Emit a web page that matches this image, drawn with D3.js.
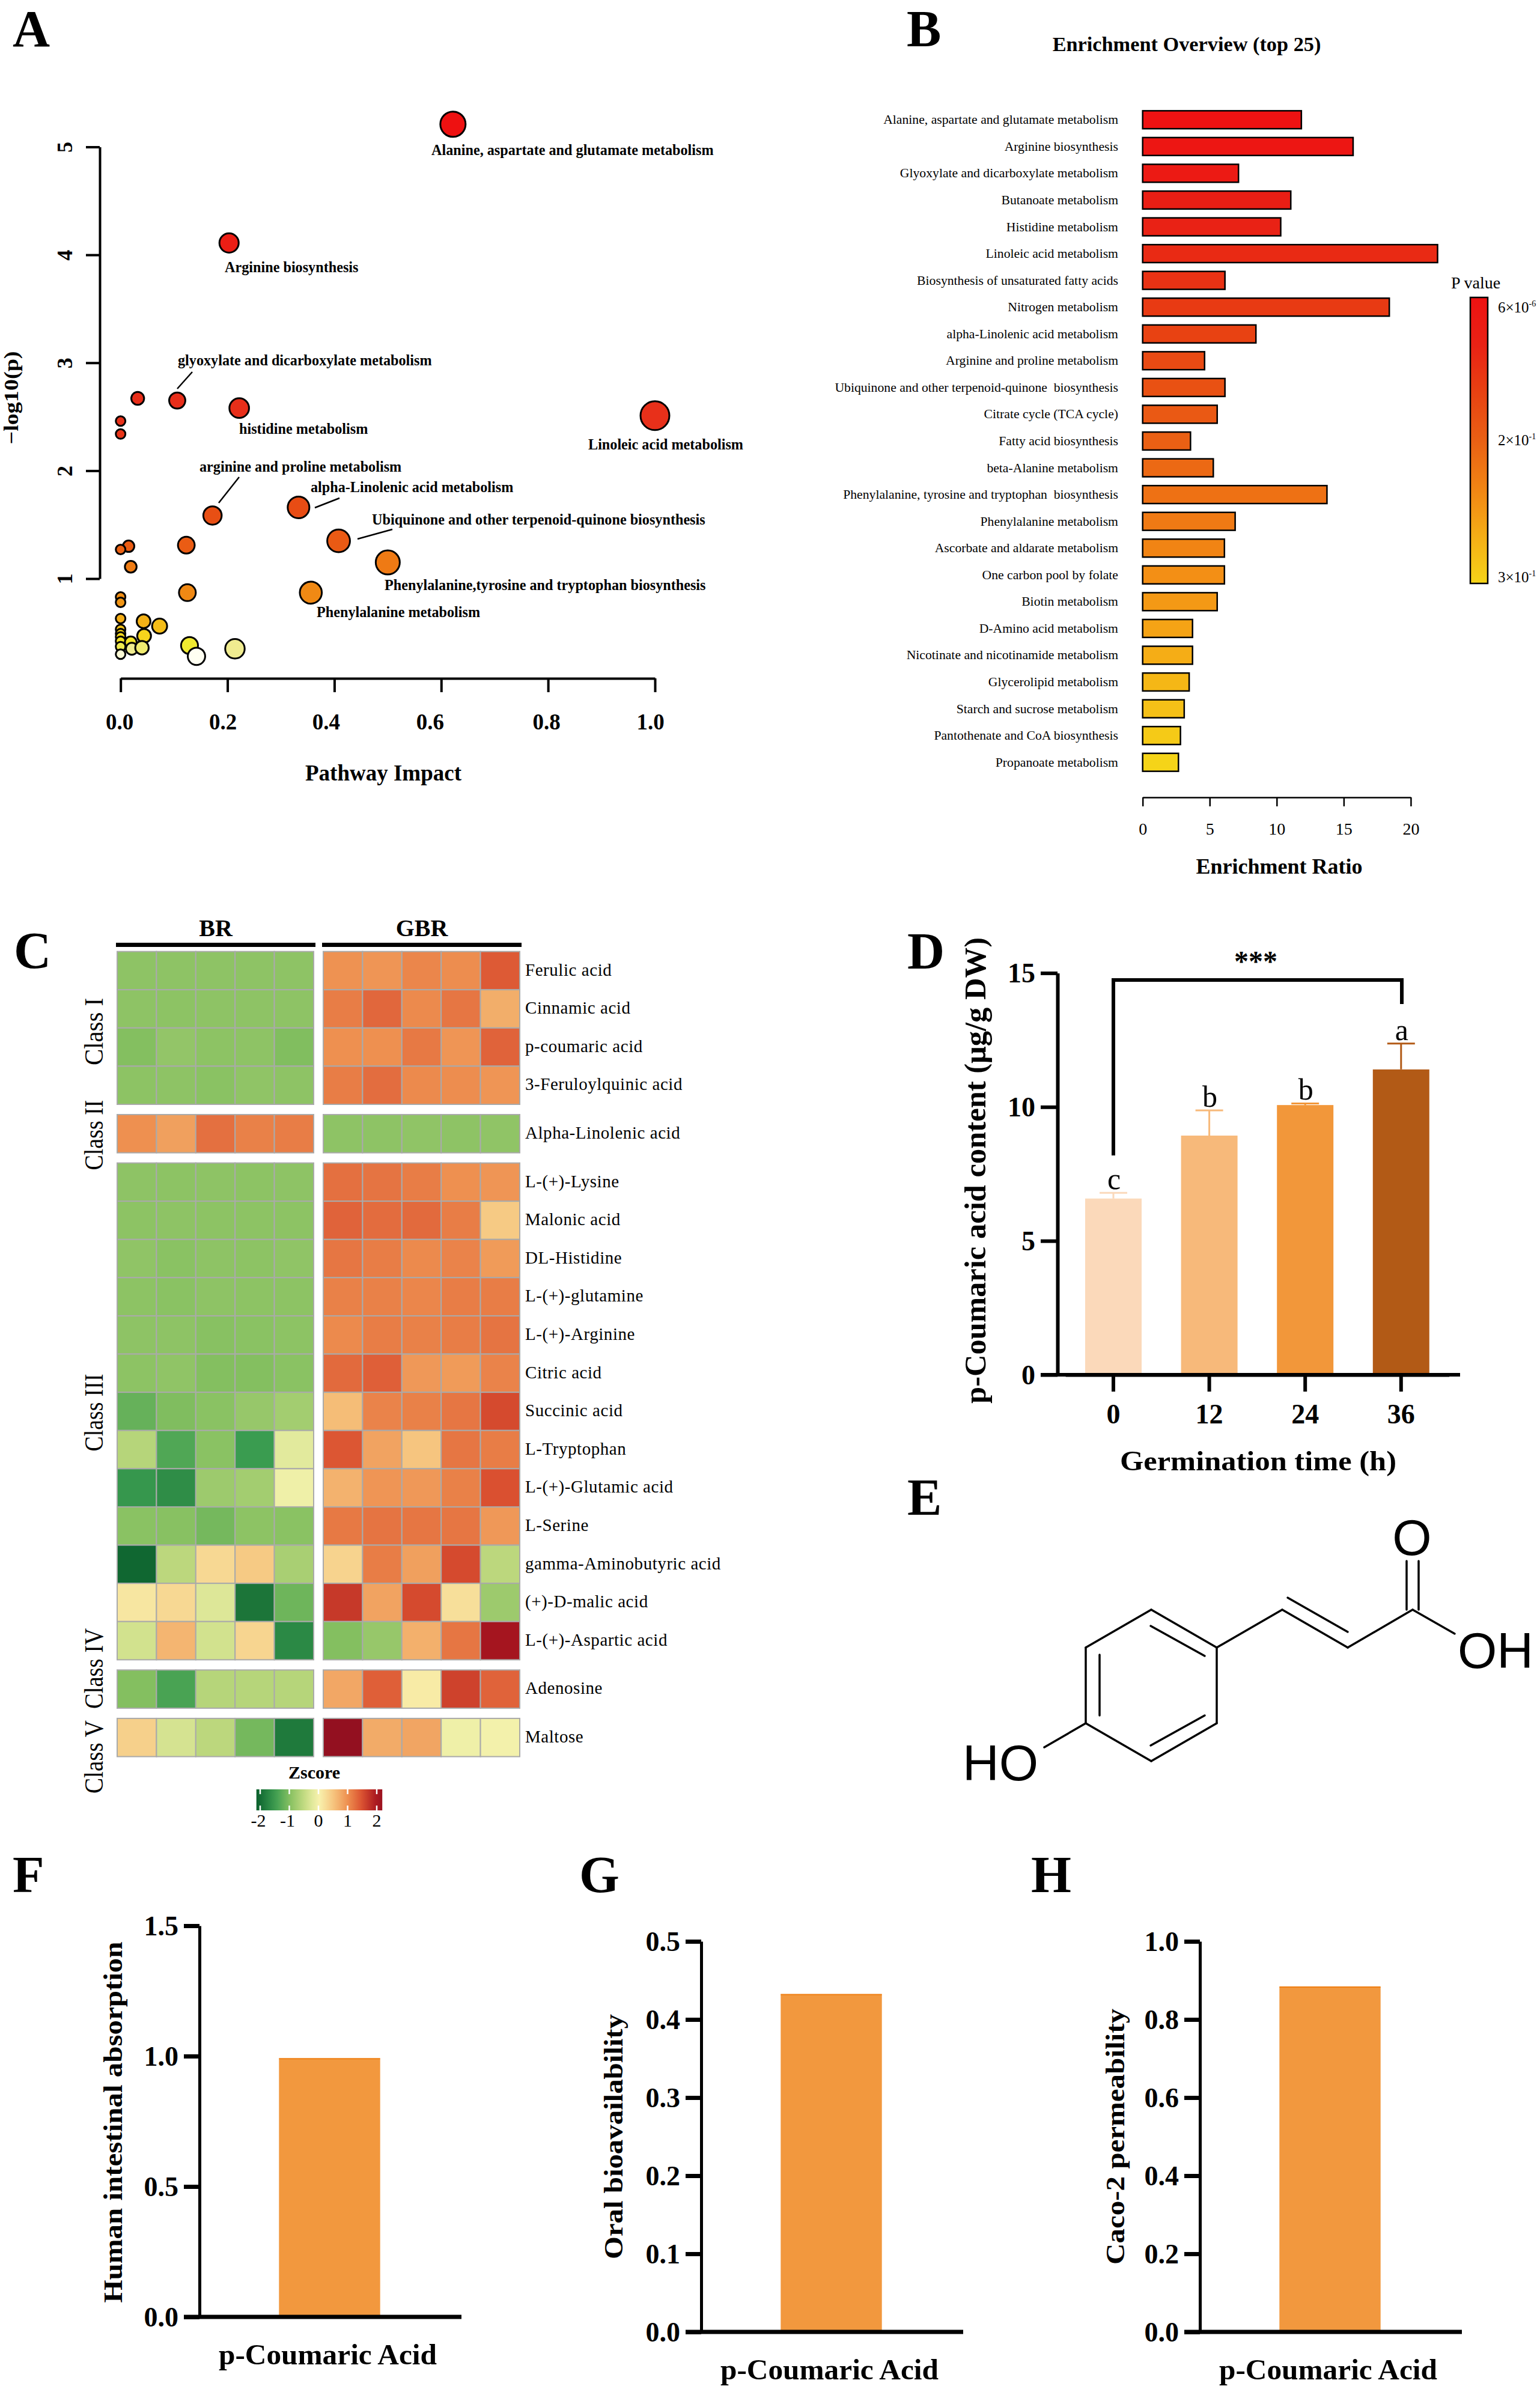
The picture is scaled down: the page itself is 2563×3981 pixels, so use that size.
<!DOCTYPE html>
<html>
<head>
<meta charset="utf-8">
<title>p-Coumaric acid figure</title>
<script src="https://d3js.org/d3.v7.min.js"></script>
<style>
  html, body { margin: 0; background: #fff; }
  svg { display: block; }
  text { font-family: "Liberation Serif", "Times New Roman", serif; fill: #000; }
</style>
</head>
<body>
<div id="figure"></div>
<script>
// Panel A data: pathway impact vs -log10(p)
var pathImpact = [0.622, 0.203, 0.106, 0.032, 0.222, 1.0, 0, 0, 0.172, 0.333, 0.408, 0.50, 0.356, 0.123, 0.125, 0.015, 0, 0.019, 0, 0, 0, 0.043, 0.073, 0.044, 0, 0, 0, 0, 0, 0.019, 0.021, 0.040, 0.129, 0.142, 0.214, 0];
var pathLogP = [5.21, 4.11, 2.65, 2.67, 2.58, 2.51, 2.46, 2.34, 1.585, 1.66, 1.35, 1.15, 0.87, 1.31, 0.87, 1.30, 1.27, 1.11, 0.83, 0.78, 0.63, 0.605, 0.56, 0.47, 0.53, 0.49, 0.46, 0.42, 0.37, 0.41, 0.35, 0.36, 0.38, 0.28, 0.35, 0.30];
var impactTicks = [0, 0.2, 0.4, 0.6, 0.8, 1.0];
var logPTicks = [1, 2, 3, 4, 5];
var pathLabels = ["Alanine, aspartate and glutamate metabolism", "Arginine biosynthesis", "glyoxylate and dicarboxylate metabolism", "histidine metabolism", "Linoleic acid metabolism", "arginine and proline metabolism", "alpha-Linolenic acid metabolism", "Ubiquinone and other terpenoid-quinone biosynthesis", "Phenylalanine,tyrosine and tryptophan biosynthesis", "Phenylalanine metabolism"];

// Panel B data
var enrichNames = ["Alanine, aspartate and glutamate metabolism", "Arginine biosynthesis", "Glyoxylate and dicarboxylate metabolism", "Butanoate metabolism", "Histidine metabolism", "Linoleic acid metabolism", "Biosynthesis of unsaturated fatty acids", "Nitrogen metabolism", "alpha-Linolenic acid metabolism", "Arginine and proline metabolism", "Ubiquinone and other terpenoid-quinone  biosynthesis", "Citrate cycle (TCA cycle)", "Fatty acid biosynthesis", "beta-Alanine metabolism", "Phenylalanine, tyrosine and tryptophan  biosynthesis", "Phenylalanine metabolism", "Ascorbate and aldarate metabolism", "One carbon pool by folate", "Biotin metabolism", "D-Amino acid metabolism", "Nicotinate and nicotinamide metabolism", "Glycerolipid metabolism", "Starch and sucrose metabolism", "Pantothenate and CoA biosynthesis", "Propanoate metabolism"];
var enrichRatio = [11.84, 15.7, 7.15, 11.05, 10.3, 22.0, 6.14, 18.4, 8.45, 4.62, 6.14, 5.56, 3.57, 5.27, 13.75, 6.9, 6.1, 6.1, 5.56, 3.72, 3.72, 3.47, 3.1, 2.82, 2.67];
var ratioTicks = [0, 5, 10, 15, 20];

// Panel C data: z-scores, 5 BR columns then 5 GBR columns
var metabolites = ["Ferulic acid", "Cinnamic acid", "p-coumaric acid", "3-Feruloylquinic acid", "Alpha-Linolenic acid", "L-(+)-Lysine", "Malonic acid", "DL-Histidine", "L-(+)-glutamine", "L-(+)-Arginine", "Citric acid", "Succinic acid", "L-Tryptophan", "L-(+)-Glutamic acid", "L-Serine", "gamma-Aminobutyric acid", "(+)-D-malic acid", "L-(+)-Aspartic acid", "Adenosine", "Maltose"];
var metaboliteClass = [0, 0, 0, 0, 1, 2, 2, 2, 2, 2, 2, 2, 2, 2, 2, 2, 2, 2, 3, 4];
var classNames = ["Class I", "Class II", "Class III", "Class IV", "Class V"];
var groupNames = ["BR", "GBR"];
var zscores = [
  [-0.92, -0.92, -0.92, -0.92, -0.92, 0.98, 0.95, 1.08, 1.02, 1.42],
  [-0.92, -0.93, -0.92, -0.92, -0.92, 1.15, 1.32, 1.05, 1.2, 0.72],
  [-1.0, -0.88, -0.93, -0.92, -1.02, 1.0, 1.0, 1.18, 0.95, 1.35],
  [-0.93, -0.92, -0.95, -0.9, -0.92, 1.15, 1.27, 1.05, 1.02, 0.95],
  [1.0, 0.85, 1.25, 1.12, 1.15, -0.92, -0.92, -0.9, -0.92, -0.9],
  [-0.92, -0.93, -0.92, -0.93, -0.92, 1.25, 1.22, 1.15, 1.0, 0.95],
  [-0.93, -0.92, -0.93, -0.93, -0.93, 1.35, 1.28, 1.3, 1.15, 0.45],
  [-0.9, -0.95, -0.92, -0.93, -0.9, 1.2, 1.15, 1.05, 1.1, 0.9],
  [-0.93, -0.95, -0.92, -0.93, -0.93, 1.12, 1.12, 1.08, 1.15, 1.15],
  [-0.92, -0.92, -0.97, -0.95, -0.93, 1.05, 1.15, 1.12, 1.15, 1.22],
  [-0.93, -0.9, -1.0, -1.0, -0.95, 1.3, 1.38, 0.92, 0.9, 1.1],
  [-1.2, -1.03, -0.95, -0.85, -0.75, 0.58, 1.1, 1.12, 1.2, 1.55],
  [-0.6, -1.35, -0.95, -1.5, -0.2, 1.45, 0.82, 0.5, 1.2, 1.15],
  [-1.55, -1.65, -0.8, -0.75, -0.08, 0.68, 0.95, 0.92, 1.12, 1.5],
  [-0.95, -0.97, -1.1, -0.93, -0.95, 1.18, 1.22, 1.2, 1.2, 0.92],
  [-2.05, -0.55, 0.3, 0.45, -0.7, 0.35, 1.15, 0.85, 1.55, -0.55],
  [0.15, 0.3, -0.25, -1.9, -1.15, 1.7, 0.82, 1.55, 0.22, -0.8],
  [-0.35, 0.65, -0.35, 0.33, -1.7, -1.0, -0.85, 0.7, 1.2, 2.05],
  [-1.0, -1.4, -0.6, -0.6, -0.6, 0.78, 1.38, 0.1, 1.62, 1.35],
  [0.38, -0.32, -0.55, -1.1, -1.85, 2.3, 0.75, 0.8, -0.08, -0.05]
];
var zTicks = [-2, -1, 0, 1, 2];

// Panel D data
var germTime = ["0", "12", "24", "36"];
var coumaric = [6.58, 8.93, 10.07, 11.4];
var coumaricErr = [0.21, 0.94, 0.06, 0.97];
var sigLetters = ["c", "b", "b", "a"];
var contentTicks = [0, 5, 10, 15];

// Panels F, G, H data
var admetTitles = ["Human intestinal absorption", "Oral bioavailability", "Caco-2 permeability"];
var admetValues = [0.99, 0.432, 0.883];
var admetMax = [1.5, 0.5, 1.0];
var admetTicks = [[0, 0.5, 1.0, 1.5], [0, 0.1, 0.2, 0.3, 0.4, 0.5], [0, 0.2, 0.4, 0.6, 0.8, 1.0]];

// Panel E: molecule drawing (p-coumaric acid), drawn in page pixels
var bonds = [
  [1916, 2679, 2025, 2742], [2025, 2742, 2025, 2868], [2025, 2868, 1916, 2931], [1916, 2931, 1807, 2868], [1807, 2868, 1807, 2742], [1807, 2742, 1916, 2679],
  [1915, 2706, 2005, 2756], [1830, 2754, 1830, 2855], [1915, 2905, 2005, 2855],
  [2025, 2742, 2134, 2679], [2134, 2679, 2243, 2742], [2143, 2659, 2243, 2716], [2243, 2742, 2351, 2679],
  [2341, 2679, 2341, 2598], [2361, 2679, 2361, 2598], [2351, 2679, 2421, 2719], [1807, 2868, 1738, 2908]
];

var svgWidth = 2563;
var svgHeight = 3981;

var svg = d3.select("#figure")
    .append("svg")
    .attr("width", svgWidth)
    .attr("height", svgHeight)
    .attr("viewBox", `0 0 ${svgWidth} ${svgHeight}`);

svg.append("rect").attr("width", svgWidth).attr("height", svgHeight).attr("fill", "#fff");

// small helper, everything in the figure is Liberation Serif except the atoms
function label(x, y, str, size, opts) {
    opts = opts || {};
    var t = svg.append("text")
        .attr("x", x)
        .attr("y", y)
        .attr("font-size", size)
        .attr("font-weight", opts.bold ? "bold" : "normal")
        .attr("text-anchor", opts.anchor || "start")
        .text(str);
    if (opts.rotate) t.attr("transform", `rotate(-90 ${x} ${y})`);
    if (opts.length) t.attr("textLength", opts.length).attr("lengthAdjust", "spacingAndGlyphs");
    return t;
}

function styleAxis(g, width, fontSize, bold) {
    g.selectAll("path,line").attr("stroke", "#000").attr("stroke-width", width);
    g.selectAll("text")
        .attr("font-size", fontSize)
        .attr("font-weight", bold ? "bold" : "normal")
        .attr("font-family", "Liberation Serif");
}

// Panel letters
var letters = [["A", 21, 77], ["B", 1509, 77], ["C", 23, 1611], ["D", 1510, 1612], ["E", 1510, 2521], ["F", 21, 3149], ["G", 964, 3149], ["H", 1716, 3149]];
letters.forEach(function(d) { label(d[1], d[2], d[0], 86, {bold: true}); });

// ---- Panel A, pathway bubble plot
var xImpact = d3.scaleLinear().domain([0, 1]).range([200.7, 1090]);
var yLogP = d3.scaleLinear().domain([1, 5]).range([963, 244.5]);
var rImpact = d3.scaleLinear()
    .domain([0, 0.015, 0.044, 0.073, 0.125, 0.2, 0.33, 0.5, 0.62, 1])
    .range([8, 9.5, 11.5, 12.5, 14, 16, 18, 20, 21, 24]);
var colorLogP = d3.scaleLinear()
    .domain([0.28, 0.35, 0.38, 0.46, 0.6, 0.85, 1.15, 1.3, 1.65, 2.5, 5.2])
    .range(["#fffff2", "#f0ec90", "#f0ea30", "#f6d81c", "#f3b216", "#f08a14", "#ef7a14", "#ea5c14", "#e84c14", "#e8301a", "#ee1111"])
    .clamp(true);

svg.append("g")
    .attr("transform", "translate(166,0)")
    .call(d3.axisLeft(yLogP).tickValues(logPTicks).tickSize(23).tickSizeOuter(0).tickFormat(d3.format("d")))
    .call(styleAxis, 4, 36, true)
    .call(g => g.selectAll("text")
        .attr("x", -58).attr("y", 0).attr("dy", 0).attr("text-anchor", "middle")
        .attr("dominant-baseline", "central")
        .attr("transform", "rotate(-90 -58 0)"));

// tick labels sit a bit left of their ticks in the original
var impactLabelShift = [-2, -8, -14, -19, -3, -8];
svg.append("g")
    .attr("transform", "translate(0,1129)")
    .call(d3.axisBottom(xImpact).tickValues(impactTicks).tickSize(23).tickSizeOuter(0).tickFormat(d3.format(".1f")))
    .call(styleAxis, 4, 37, true)
    .call(g => g.selectAll("text").attr("y", 72).attr("dy", 0).attr("dominant-baseline", "central")
        .attr("x", (d, i) => impactLabelShift[i]));

var bubbles = pathImpact.map(function(d, i) { return {x: d, y: pathLogP[i]}; });
svg.append("g").selectAll("circle")
    .data(bubbles)
    .enter()
    .append("circle")
    .attr("cx", d => xImpact(d.x))
    .attr("cy", d => yLogP(d.y))
    .attr("r", d => rImpact(d.x))
    .attr("fill", d => colorLogP(d.y))
    .attr("stroke", "#000")
    .attr("stroke-width", 3);

var pathLabelPos = [[718, 258], [374, 453], [296, 608], [398, 722], [979, 748], [332, 785], [517, 819], [619, 873], [640, 982], [527, 1027]];
pathLabels.forEach(function(d, i) {
    label(pathLabelPos[i][0], pathLabelPos[i][1], d, 24.2, {bold: true});
});
var leaders = [[295, 647, 320, 619], [364, 837, 398, 794], [524, 845, 565, 829], [595, 897, 653, 881]];
leaders.forEach(function(d) {
    svg.append("line").attr("x1", d[0]).attr("y1", d[1]).attr("x2", d[2]).attr("y2", d[3]).attr("stroke", "#000").attr("stroke-width", 2.5);
});
label(30, 662, "\u2212log10(p)", 33, {bold: true, anchor: "middle", rotate: true, length: 155});
label(638, 1299, "Pathway Impact", 37, {bold: true, anchor: "middle"});

// ---- Panel B, enrichment bars
var xRatio = d3.scaleLinear().domain([0, 20]).range([1901.7, 2347.9]);
var yEnrich = d3.scaleBand().domain(enrichNames).range([177, 1291]).paddingInner(0.33).paddingOuter(0.165);
var colorRank = d3.scaleLinear()
    .domain([0, 4, 8, 12, 15, 19, 24])
    .range(["#ee1212", "#e92215", "#e84212", "#ea6014", "#f07a14", "#f5a315", "#f5d418"]);

label(1975, 85, "Enrichment Overview (top 25)", 34.3, {bold: true, anchor: "middle"});

svg.append("g").selectAll("rect")
    .data(enrichRatio)
    .enter()
    .append("rect")
    .attr("x", xRatio(0))
    .attr("y", (d, i) => yEnrich(enrichNames[i]))
    .attr("width", d => xRatio(d) - xRatio(0))
    .attr("height", yEnrich.bandwidth())
    .attr("fill", (d, i) => colorRank(i))
    .attr("stroke", "#000")
    .attr("stroke-width", 2.5);

enrichNames.forEach(function(d) {
    label(1861, yEnrich(d) + yEnrich.bandwidth() / 2, d, 21.7, {anchor: "end"})
        .attr("dominant-baseline", "central")
        .style("white-space", "pre");
});

svg.append("g")
    .attr("transform", "translate(0,1327)")
    .call(d3.axisBottom(xRatio).tickValues(ratioTicks).tickSize(15).tickSizeOuter(0))
    .call(styleAxis, 2.5, 28, false)
    .call(g => g.selectAll("text").attr("y", 52).attr("dy", 0).attr("dominant-baseline", "central"));
label(2129, 1454, "Enrichment Ratio", 36, {bold: true, anchor: "middle"});

// P value legend
var legendScale = d3.scaleLinear().domain([0, 1]).range([495, 971]);
var legendGrad = svg.append("defs").append("linearGradient")
    .attr("id", "pGrad").attr("x1", 0).attr("x2", 0).attr("y1", 0).attr("y2", 1);
d3.range(0, 25, 4).concat([24]).forEach(function(i) {
    legendGrad.append("stop").attr("offset", i / 24).attr("stop-color", colorRank(i));
});
svg.append("rect")
    .attr("x", 2447).attr("y", legendScale(0))
    .attr("width", 29).attr("height", legendScale(1) - legendScale(0))
    .attr("fill", "url(#pGrad)").attr("stroke", "#000").attr("stroke-width", 2.5);
label(2415, 480, "P value", 28);
[["6\u00d710", "-6", 520], ["2\u00d710", "-1", 741], ["3\u00d710", "-1", 969]].forEach(function(d) {
    var t = label(2493, d[2], d[0], 25);
    t.append("tspan").attr("dy", -10).attr("font-size", 14).text(d[1]);
});

// ---- Panel C, heatmap
var xCell = d3.scaleBand().domain(d3.range(5)).range([0, 327]);
var groupX = d3.scaleOrdinal().domain([0, 1]).range([195, 538]);
var slots = metaboliteClass.map((d, i) => i + d * 0.267);
var yCell = d3.scaleLinear().domain([0, 1]).range([1583.6, 1647.2]);
var colorZ = d3.scaleLinear()
    .domain([-2.13, -1.5, -1, -0.5, 0, 0.5, 1, 1.5, 2, 2.3])
    .range(["#0a5f2c", "#3a9c50", "#84bf60", "#c2da80", "#f8f4b0", "#f6c57f", "#ee9050", "#da5030", "#a8161f", "#931020"]);

metabolites.forEach(function(name, r) {
    zscores[r].forEach(function(z, c) {
        var g = c < 5 ? 0 : 1;
        svg.append("rect")
            .attr("class", "cell")
            .attr("x", groupX(g) + xCell(c % 5))
            .attr("y", yCell(slots[r]))
            .attr("width", xCell.bandwidth())
            .attr("height", yCell(1) - yCell(0))
            .attr("fill", colorZ(z))
            .attr("stroke", "#aaa")
            .attr("stroke-width", 2);
    });
    label(874, yCell(slots[r]) + 30, name, 29).attr("dominant-baseline", "central").attr("letter-spacing", 0.55);
});

groupNames.forEach(function(d, i) {
    svg.append("rect")
        .attr("x", groupX(i) - 2).attr("y", 1569)
        .attr("width", 332).attr("height", 7)
        .attr("fill", "#000");
    label(groupX(i) + 164, 1558, d, 40, {bold: true, anchor: "middle"});
});

var classCenters = [1717, 1889, 2351, 2777, 2924];
var classLengths = [112, 117, 129, 134, 122];
classNames.forEach(function(d, i) {
    label(171, classCenters[i], d, 44, {anchor: "middle", rotate: true, length: classLengths[i]});
});

// z-score colour bar
var xZ = d3.scaleLinear().domain([-2, 2]).range([433, 627]);
label(523, 2960, "Zscore", 30, {bold: true, anchor: "middle"});
var zGrad = svg.select("defs").append("linearGradient").attr("id", "zGrad");
d3.range(-2.13, 2.19, 0.24).concat([2.19]).forEach(function(v) {
    zGrad.append("stop").attr("offset", (xZ(v) - xZ(-2.13)) / (xZ(2.19) - xZ(-2.13))).attr("stop-color", colorZ(v));
});
svg.append("rect")
    .attr("x", xZ(-2.13)).attr("y", 2978)
    .attr("width", xZ(2.19) - xZ(-2.13)).attr("height", 35)
    .attr("fill", "url(#zGrad)");
zTicks.forEach(function(v) {
    [2978, 3005].forEach(function(y0) {
        svg.append("line")
            .attr("x1", xZ(v)).attr("x2", xZ(v))
            .attr("y1", y0).attr("y2", y0 + 8)
            .attr("stroke", "#fff").attr("stroke-width", 2.5);
    });
    label(xZ(v) - (v < 0 ? 3 : 0), 3040, String(v), 30, {anchor: "middle"});
});

// ---- Panel D, bar chart
var xTime = d3.scaleBand().domain(germTime).range([1773.2, 2411.6]).paddingInner(0.411).paddingOuter(0.2055);
var yContent = d3.scaleLinear().domain([0, 15]).range([2288, 1619.4]);
var timeColors = ["#fbd9ba", "#f7b97a", "#f2973a", "#b25a16"];

svg.append("g").selectAll("rect")
    .data(coumaric)
    .enter()
    .append("rect")
    .attr("x", (d, i) => xTime(germTime[i]))
    .attr("y", d => yContent(d))
    .attr("width", xTime.bandwidth())
    .attr("height", d => yContent(0) - yContent(d))
    .attr("fill", (d, i) => timeColors[i]);

coumaric.forEach(function(d, i) {
    var cx = xTime(germTime[i]) + xTime.bandwidth() / 2;
    var top = yContent(d + coumaricErr[i]);
    svg.append("path")
        .attr("d", `M${cx},${yContent(d)}V${top}M${cx - 23},${top}H${cx + 23}`)
        .attr("fill", "none")
        .attr("stroke", timeColors[i])
        .attr("stroke-width", 3);
    label(cx + 1, top - 6, sigLetters[i], 50, {anchor: "middle"});
});

svg.append("g")
    .attr("transform", "translate(1760,0)")
    .call(d3.axisLeft(yContent).tickValues(contentTicks).tickSize(28).tickSizeOuter(0))
    .call(styleAxis, 6, 46, true)
    .call(g => g.selectAll("text").attr("x", -37).attr("dy", 0).attr("dominant-baseline", "central"));
svg.append("g")
    .attr("transform", "translate(0,2288)")
    .call(d3.axisBottom(xTime).tickSize(28).tickSizeOuter(0))
    .call(styleAxis, 6, 46, true)
    .call(g => g.selectAll("text").attr("y", 65).attr("dy", 0).attr("dominant-baseline", "central"));
// the x axis line runs past both ends of the ticks
svg.append("line").attr("x1", 1732).attr("x2", 2430).attr("y1", 2288).attr("y2", 2288).attr("stroke", "#000").attr("stroke-width", 6);

svg.append("path")
    .attr("d", "M1853,1923V1631H2333V1671")
    .attr("fill", "none")
    .attr("stroke", "#000")
    .attr("stroke-width", 6);
label(2090, 1616, "***", 48, {bold: true, anchor: "middle"});
label(2094, 2447, "Germination time (h)", 46, {bold: true, anchor: "middle", length: 460});
label(1640, 1948, "p-Coumaric acid content (\u03bcg/g DW)", 50, {bold: true, anchor: "middle", rotate: true, length: 776});

// ---- Panel E, structure
svg.append("g").selectAll("line")
    .data(bonds)
    .enter()
    .append("line")
    .attr("x1", d => d[0])
    .attr("y1", d => d[1])
    .attr("x2", d => d[2])
    .attr("y2", d => d[3])
    .attr("stroke", "#000")
    .attr("stroke-width", 3.5)
    .attr("stroke-linecap", "round");
[["O", 2350, 2588, "middle"], ["OH", 2426, 2776, "start"], ["HO", 1602, 2963, "start"]].forEach(function(d) {
    label(d[1], d[2], d[0], 84, {anchor: d[3]}).style("font-family", "'Liberation Sans'");
});

// ---- Panels F, G, H, single bars
var admetOrigin = [[332, 3856, 3205], [1167, 3881, 3231], [1997, 3881, 3231]];
var admetTitleX = [203, 1036, 1871];
var admetTitleY = [3532, 3556, 3556];
var admetTitleLen = [601, 408, 426];

admetValues.forEach(function(v, i) {
    var ox = admetOrigin[i][0];
    var yScale = d3.scaleLinear().domain([0, admetMax[i]]).range([admetOrigin[i][1], admetOrigin[i][2]]);
    var xBar = d3.scaleBand().domain(["p-Coumaric Acid"]).range([ox, ox + 433]).padding(0.44);

    svg.append("rect")
        .attr("x", xBar("p-Coumaric Acid"))
        .attr("y", yScale(v))
        .attr("width", xBar.bandwidth())
        .attr("height", yScale(0) - yScale(v))
        .attr("fill", "#f2983e");
    svg.append("line")
        .attr("x1", xBar("p-Coumaric Acid")).attr("x2", xBar("p-Coumaric Acid") + xBar.bandwidth())
        .attr("y1", yScale(v)).attr("y2", yScale(v))
        .attr("stroke", "#ef7f12").attr("stroke-width", 2);

    svg.append("g")
        .attr("transform", `translate(${ox},0)`)
        .call(d3.axisLeft(yScale).tickValues(admetTicks[i]).tickSize(26).tickSizeOuter(0).tickFormat(d3.format(".1f")))
        .call(styleAxis, 5, 46, true)
        .call(g => g.selectAll("text").attr("x", -35).attr("dy", 0).attr("dominant-baseline", "central"))
        .call(g => g.selectAll("line").attr("stroke-width", 7));

    svg.append("line")
        .attr("x1", ox - 26).attr("x2", ox + 436)
        .attr("y1", yScale(0)).attr("y2", yScale(0))
        .attr("stroke", "#000").attr("stroke-width", 7);

    label(xBar("p-Coumaric Acid") + xBar.bandwidth() / 2 - 3, yScale(0) + 79, "p-Coumaric Acid", 48, {bold: true, anchor: "middle", length: 363});
    label(admetTitleX[i], admetTitleY[i], admetTitles[i], 44, {bold: true, anchor: "middle", rotate: true, length: admetTitleLen[i]});
});
</script>
</body>
</html>
